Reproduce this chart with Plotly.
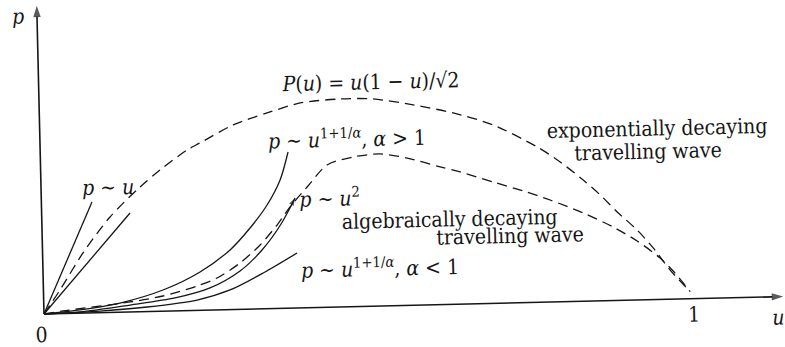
import plotly.graph_objects as go

# ---- curve data (u, p) ----
# exponentially decaying travelling wave, P(u)
exp_u = [0.0, 0.0256, 0.0624, 0.1054, 0.1528, 0.1843, 0.2267, 0.2470, 0.2986, 0.3514,
         0.4028, 0.4646, 0.5155, 0.5771, 0.6385, 0.6998, 0.7670, 0.8018, 0.8367, 0.8624,
         0.8880, 0.9180, 0.9423, 0.9676, 0.9977]
exp_p = [0.0, 0.0201, 0.0511, 0.0811, 0.1060, 0.1200, 0.1365, 0.1422, 0.1568, 0.1663,
         0.1741, 0.1767, 0.1761, 0.1702, 0.1626, 0.1516, 0.1320, 0.1188, 0.1030, 0.0900,
         0.0752, 0.0595, 0.0439, 0.0248, 0.0060]

# algebraically decaying travelling wave
alg_u = [0.0, 0.0294, 0.1332, 0.1843, 0.2371, 0.2683, 0.3043, 0.3359, 0.3628, 0.3835,
         0.4105, 0.4421, 0.4826, 0.5244, 0.5659, 0.6165, 0.6472, 0.6977, 0.7437, 0.7850,
         0.8355, 0.8812, 0.9178, 0.9526, 0.9722, 0.9978]
alg_p = [0.0, 0.0022, 0.0085, 0.0129, 0.0207, 0.0271, 0.0394, 0.0543, 0.0709, 0.0860,
         0.1026, 0.1209, 0.1272, 0.1292, 0.1252, 0.1170, 0.1123, 0.1031, 0.0949, 0.0867,
         0.0750, 0.0625, 0.0501, 0.0352, 0.0239, 0.0060]

# p ~ u  (two straight asymptotes)
lin_hi_u = [0.0, 0.0781]
lin_hi_p = [0.0, 0.0942]
lin_lo_u = [0.0, 0.1364]
lin_lo_p = [0.0, 0.0841]

# p ~ u^(1+1/alpha), alpha > 1
agt_u = [0.0, 0.0557, 0.1177, 0.1845, 0.2423, 0.2894, 0.3210, 0.3481, 0.3691, 0.3824]
agt_p = [0.0, 0.0027, 0.0078, 0.0180, 0.0326, 0.0507, 0.0689, 0.0881, 0.1091, 0.1327]

# p ~ u^2
sq_u = [0.0, 0.0556, 0.1330, 0.2028, 0.2571, 0.3040, 0.3387, 0.3690, 0.3915]
sq_p = [0.0, 0.0010, 0.0059, 0.0110, 0.0188, 0.0326, 0.0500, 0.0717, 0.0935]

# p ~ u^(1+1/alpha), alpha < 1
alt_u = [0.0, 0.0865, 0.1592, 0.2366, 0.2879, 0.3395, 0.3926]
alt_p = [0.0, 0.0014, 0.0039, 0.0088, 0.0167, 0.0304, 0.0467]

# axis extents
u_axis_end = 1.141
p_axis_end = 0.262

INK = "#161616"
FONT = "DejaVu Serif Condensed"
FS = 21

fig = go.Figure()

def curve(u, p, dash=None, smooth=0.0, width=1.3, arrow_size=0):
    line = dict(color=INK, width=width)
    if dash:
        line["dash"] = dash
    if smooth:
        line["shape"] = "spline"
        line["smoothing"] = smooth
    kw = dict(mode="lines")
    if arrow_size:
        # arrowhead drawn only on the last point, pointing along the line
        kw = dict(mode="lines+markers",
                  marker=dict(symbol="arrow", angleref="previous", color=INK,
                              size=[0] * (len(u) - 1) + [arrow_size],
                              line=dict(width=0)))
    fig.add_trace(go.Scatter(x=u, y=p, line=line, hoverinfo="skip",
                             showlegend=False, **kw))

# coordinate axes
curve([0, u_axis_end], [0, 0], width=1.6, arrow_size=12)
curve([0, 0], [0, p_axis_end], width=1.6, arrow_size=12)

curve(exp_u, exp_p, dash="10px,6px", smooth=0.8)
curve(alg_u, alg_p, dash="10px,6px", smooth=0.8)
curve(lin_hi_u, lin_hi_p)
curve(lin_lo_u, lin_lo_p)
curve(agt_u, agt_p, smooth=0.8)
curve(sq_u, sq_p, smooth=0.8, arrow_size=8)
curve(alt_u, alt_p, smooth=0.8)

annotations = []

def label(text, u, p, size=FS):
    annotations.append(dict(x=u, y=p, xref="x", yref="y", text=text,
                            showarrow=False, xanchor="center", yanchor="middle",
                            font=dict(family=FONT, size=size, color=INK)))

label("<i>p</i>", -0.0293, 0.2529)
label("0", -0.0039, -0.0178)
label("1", 1.003, -0.0139)
label("<i>u</i>", 1.1326, -0.0181)
label("<i>P</i>(<i>u</i>) = <i>u</i>(1 − <i>u</i>)/√2", 0.5116, 0.1906)
label("<i>p</i> ~ <i>u</i><sup>1+1/<i>α</i></sup>, <i>α</i> > 1", 0.474, 0.1434)
label("<i>p</i> ~ <i>u</i>", 0.1034, 0.1058)
label("<i>p</i> ~ <i>u</i><sup>2</sup>", 0.4456, 0.0937)
label("algebraically decaying", 0.630, 0.0726)
label("travelling wave", 0.7219, 0.0569)
label("<i>p</i> ~ <i>u</i><sup>1+1/<i>α</i></sup>, <i>α</i> < 1", 0.5202, 0.0332)
label("exponentially decaying", 0.9527, 0.1449)
label("travelling wave", 0.938, 0.1255)

fig.update_layout(
    width=785, height=347,
    margin=dict(l=0, r=0, t=0, b=0),
    paper_bgcolor="white", plot_bgcolor="white",
    font=dict(family=FONT),
    xaxis=dict(range=[-0.0679, 1.1435], visible=False, fixedrange=True),
    yaxis=dict(range=[-0.02804, 0.26678], visible=False, fixedrange=True),
    annotations=annotations,
    showlegend=False,
)

# the printed diagram sits slightly tilted; turn the plot about its origin
tilt = ("var gd=document.getElementsByClassName('plotly-graph-div')[0];"
        "gd.style.transformOrigin='44px 314px';"
        "gd.style.transform='rotate(-1.35deg)';")

fig.write_html("out.html", config={"displayModeBar": False}, post_script=tilt)
